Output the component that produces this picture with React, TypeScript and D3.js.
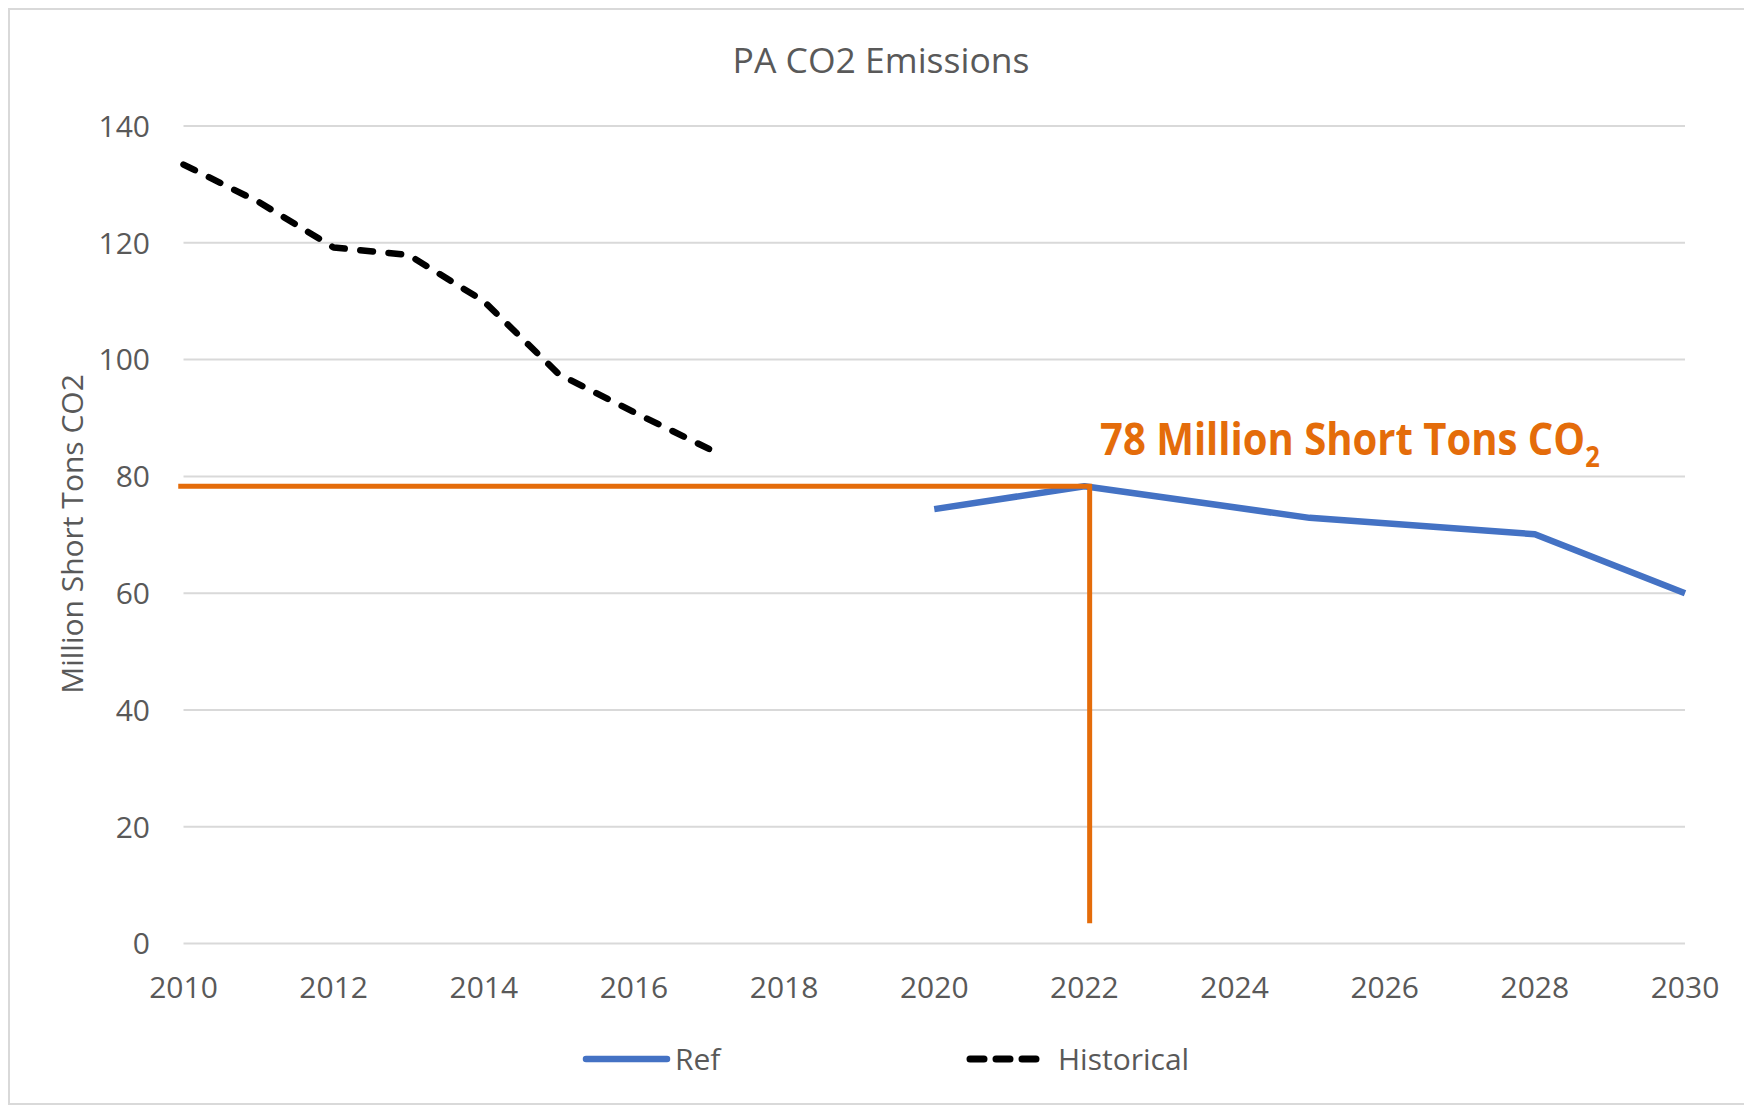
import React, { useEffect, useRef } from "react";
import * as d3 from "d3";

// chart values
const histYears = [2010, 2011, 2012, 2013, 2014, 2015, 2016, 2017];
const histValues = [133.4, 127, 119.2, 117.9, 110, 97.5, 91, 84.7];

const refYears = [2020, 2022, 2025, 2028, 2030];
const refValues = [74.4, 78.3, 72.9, 70.1, 60.0];

// orange callout lines (level at 2022, dropped to near the axis)
const markerYears = [2009.93, 2022.07, 2022.07];
const markerValues = [78.3, 78.3, 3.5];

const xTicks = [2010, 2012, 2014, 2016, 2018, 2020, 2022, 2024, 2026, 2028, 2030];
const yTicks = [0, 20, 40, 60, 80, 100, 120, 140];

const W = 1744;
const H = 1107;
const FONT = "'Open Sans', sans-serif";
const GREY = "#595959";
const BLUE = "#4472C4";
const ORANGE = "#E46C0A";

export default function App() {
  const histRef = useRef<SVGPathElement>(null);

  const x = d3.scaleLinear().domain([2010, 2030]).range([183.5, 1685]);
  const y = d3.scaleLinear().domain([0, 140]).range([943.6, 126]);

  const line = d3
    .line<[number, number]>()
    .x((d) => x(d[0]))
    .y((d) => y(d[1]));

  const hist = line(histYears.map((yr, i) => [yr, histValues[i]]));
  const ref = line(refYears.map((yr, i) => [yr, refValues[i]]));
  const marker = line(markerYears.map((yr, i) => [yr, markerValues[i]]));

  // fit the dash pattern so the dashed line starts and ends on a dash
  useEffect(() => {
    const el = histRef.current;
    if (!el) return;
    const len = el.getTotalLength();
    const dashLen = 13;
    const gapLen = 16;
    const n = Math.round((len + gapLen) / (dashLen + gapLen));
    const scale = (len + gapLen) / (n * (dashLen + gapLen));
    d3.select(el).attr("stroke-dasharray", `${dashLen * scale},${gapLen * scale}`);
  }, []);

  return (
    <svg
      width={W}
      height={H}
      style={{ position: "absolute", left: 0, top: 0, display: "block", background: "#fff" }}
      fontFamily={FONT}
    >
      {/* chart frame */}
      <rect x={9} y={9} width={W + 10} height={1095} fill="#fff" stroke="#D9D9D9" strokeWidth={2} />

      <text x={881} y={73} textAnchor="middle" fontSize={35.5} fill={GREY}>
        PA CO2 Emissions
      </text>

      {/* gridlines + y labels */}
      {yTicks.map((t) => (
        <g key={"y" + t}>
          <line x1={x(2010)} x2={x(2030)} y1={y(t)} y2={y(t)} stroke="#D9D9D9" strokeWidth={2} />
          <text x={150} y={y(t)} dy="0.36em" textAnchor="end" fontSize={30} fill={GREY}>
            {t}
          </text>
        </g>
      ))}

      {xTicks.map((t) => (
        <text key={"x" + t} x={x(t)} y={998} textAnchor="middle" fontSize={30} fill={GREY}>
          {t}
        </text>
      ))}

      <text
        transform={`translate(83,534) rotate(-90)`}
        textAnchor="middle"
        fontSize={30}
        fill={GREY}
      >
        Million Short Tons CO2
      </text>

      {/* series */}
      <path ref={histRef} d={hist ?? ""} fill="none" stroke="#000" strokeWidth={6.5} strokeDasharray="13,16" strokeLinecap="round" strokeLinejoin="round" />
      <path d={ref ?? ""} fill="none" stroke={BLUE} strokeWidth={6.5} strokeLinejoin="round" />

      {/* callout */}
      <path d={marker ?? ""} fill="none" stroke={ORANGE} strokeWidth={5} strokeLinejoin="miter" />
      <text
        transform="translate(1100,455) scale(0.91,1)"
        fontSize={44}
        fontWeight={700}
        fill={ORANGE}
      >
        78 Million Short Tons CO
        <tspan fontSize={28} dy={12}>2</tspan>
      </text>

      {/* legend */}
      <line x1={586} x2={667} y1={1059} y2={1059} stroke={BLUE} strokeWidth={6.5} strokeLinecap="round" />
      <text x={675} y={1059} dy="0.36em" fontSize={30} fill={GREY}>Ref</text>
      <line x1={970} x2={1042} y1={1059} y2={1059} stroke="#000" strokeWidth={7} strokeDasharray="14,12" strokeLinecap="round" />
      <text x={1058} y={1059} dy="0.36em" fontSize={30} fill={GREY}>Historical</text>
    </svg>
  );
}
